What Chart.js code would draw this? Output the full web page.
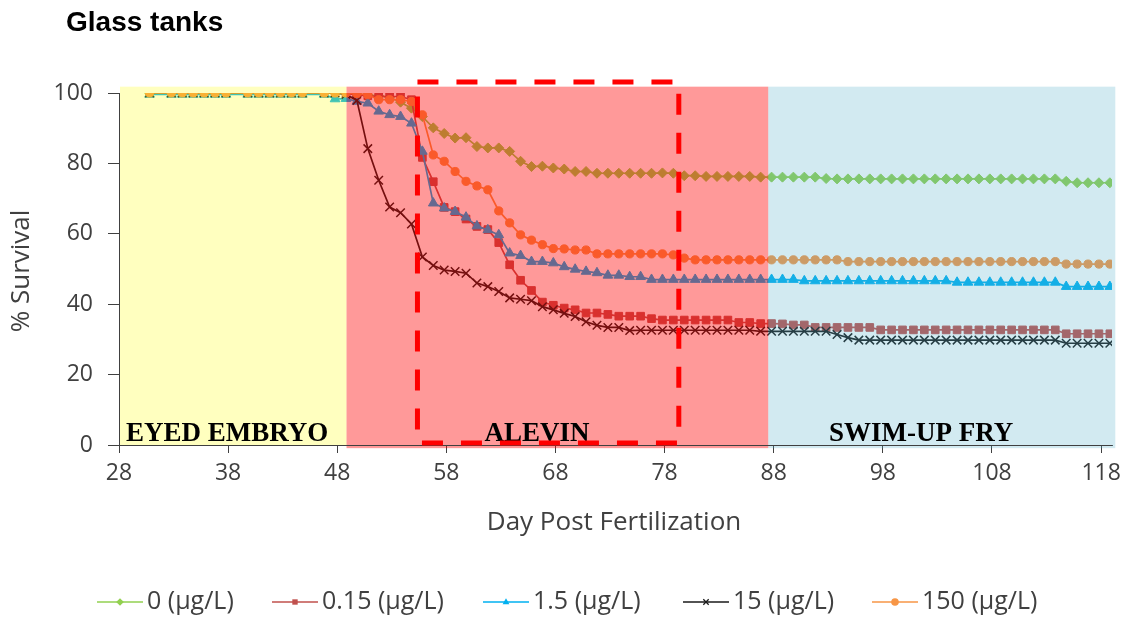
<!DOCTYPE html>
<html>
<head>
<meta charset="utf-8">
<title>Glass tanks</title>
<script src="https://cdn.jsdelivr.net/npm/chart.js@4.4.1/dist/chart.umd.min.js"></script>
<style>
  html, body { margin: 0; padding: 0; background: #ffffff; }
  canvas { display: block; }
</style>
</head>
<body>
<canvas id="supervivencia" width="1128" height="619"></canvas>
<script>
"use strict";

var dias = [30.8, 32.8, 33.8, 34.8, 35.8, 36.8, 37.8, 39.8, 40.8, 41.8, 42.8, 43.8, 44.8, 46.8, 47.8,
    48.8, 49.8, 50.8, 51.8, 52.8, 53.8, 54.8, 55.8, 56.8, 57.8,
    58.8, 59.8, 60.8, 61.8, 62.8, 63.8, 64.8, 65.8, 66.8, 67.8,
    68.8, 69.8, 70.8, 71.8, 72.8, 73.8, 74.8, 75.8, 76.8, 77.8,
    78.8, 79.8, 80.8, 81.8, 82.8, 83.8, 84.8, 85.8, 86.8, 87.8,
    88.8, 89.8, 90.8, 91.8, 92.8, 93.8, 94.8, 95.8, 96.8, 97.8,
    98.8, 99.8, 100.8, 101.8, 102.8, 103.8, 104.8, 105.8, 106.8, 107.8,
    108.8, 109.8, 110.8, 111.8, 112.8, 113.8, 114.8, 115.8, 116.8, 117.8,
    118.8];

var serie0 = [100, 100, 100, 100, 100, 100, 100, 100, 100, 100, 100, 100, 100, 100, 100,
    100, 99.6, 99.4, 99.2, 98.8, 97.4, 95.7, 93.3, 90.1, 88.5,
    87.2, 87.3, 84.8, 84.4, 84.4, 83.4, 80.6, 79.1, 79.2, 78.7,
    78.4, 77.7, 77.7, 77.2, 77.2, 77.2, 77.2, 77.2, 77.2, 77.3,
    77.2, 76.5, 76.5, 76.3, 76.3, 76.3, 76.3, 76.3, 76.1, 76.1,
    76.1, 76.1, 76.1, 76.1, 75.7, 75.6, 75.6, 75.6, 75.6, 75.6,
    75.6, 75.6, 75.6, 75.6, 75.6, 75.6, 75.6, 75.6, 75.6, 75.6,
    75.6, 75.6, 75.6, 75.6, 75.6, 75.6, 74.9, 74.5, 74.5, 74.5,
    74.5];

var serie015 = [100, 100, 100, 100, 100, 100, 100, 100, 100, 100, 100, 100, 100, 100, 100,
    99.8, 99.5, 99.2, 99.0, 99.0, 99.0, 98.1, 81.7, 74.8, 67.5,
    66.3, 64.2, 62.1, 61.2, 57.5, 51.2, 46.8, 43.9, 40.6, 39.7,
    38.9, 38.4, 37.5, 37.5, 37.1, 36.6, 36.6, 36.6, 35.9, 35.5,
    35.5, 35.5, 35.5, 35.5, 35.5, 35.5, 34.8, 34.8, 34.5, 34.5,
    34.4, 34.1, 34.1, 33.4, 33.4, 33.4, 33.4, 33.4, 33.4, 32.7,
    32.7, 32.7, 32.7, 32.7, 32.7, 32.7, 32.7, 32.7, 32.7, 32.7,
    32.7, 32.7, 32.7, 32.7, 32.7, 32.7, 31.6, 31.6, 31.6, 31.6,
    31.6];

var serie15 = [99.6, 99.6, 99.6, 99.6, 99.6, 99.6, 99.6, 99.6, 99.6, 99.6, 99.6, 99.6, 99.6, 99.6, 98.3,
    98.4, 97.6, 97.1, 94.8, 93.8, 93.3, 91.4, 83.4, 68.7, 67.3,
    66.3, 64.7, 62.2, 61.1, 59.7, 54.5, 53.8, 52.1, 52.1, 51.7,
    50.6, 49.9, 49.3, 48.9, 48.2, 48.2, 47.8, 47.8, 47.0, 47.0,
    47.0, 47.0, 47.0, 47.0, 47.0, 47.0, 47.0, 47.0, 47.0, 47.0,
    47.0, 47.0, 46.6, 46.6, 46.6, 46.6, 46.6, 46.6, 46.6, 46.6,
    46.6, 46.6, 46.6, 46.6, 46.6, 46.6, 46.2, 46.2, 46.2, 46.2,
    46.2, 46.2, 46.2, 46.2, 46.2, 46.2, 45.0, 45.0, 45.0, 45.0,
    45.0];

var serie150x = [100, 100, 100, 100, 100, 100, 100, 100, 100, 100, 100, 100, 100, 100, 100,
    99.6, 97.9, 84.2, 75.2, 67.6, 66.0, 62.8, 53.4, 51.0, 49.7,
    49.3, 48.8, 46.0, 45.0, 43.6, 41.8, 41.4, 41.0, 39.3, 38.4,
    37.4, 36.5, 35.0, 34.0, 33.4, 33.4, 32.5, 32.6, 32.6, 32.6,
    32.6, 32.6, 32.6, 32.6, 32.6, 32.6, 32.6, 32.6, 32.3, 32.3,
    32.3, 32.3, 32.3, 32.3, 32.3, 31.4, 30.5, 29.8, 29.8, 29.8,
    29.8, 29.8, 29.8, 29.8, 29.8, 29.8, 29.8, 29.8, 29.8, 29.8,
    29.8, 29.8, 29.8, 29.8, 29.8, 29.8, 28.9, 28.9, 28.9, 28.9,
    28.9];

var serie150 = [100, 100, 100, 100, 100, 100, 100, 100, 100, 100, 100, 100, 100, 100, 100,
    100, 99.8, 99.5, 98.1, 98.1, 98.1, 97.6, 93.8, 82.4, 80.6,
    77.7, 74.9, 73.6, 72.5, 66.5, 63.1, 59.7, 58.2, 56.9, 55.8,
    55.7, 55.4, 55.4, 54.3, 54.3, 54.3, 54.3, 54.3, 54.3, 54.3,
    54.0, 53.1, 52.6, 52.6, 52.6, 52.6, 52.6, 52.6, 52.6, 52.6,
    52.6, 52.6, 52.6, 52.6, 52.6, 52.6, 52.1, 52.1, 52.1, 52.1,
    52.1, 52.1, 52.1, 52.1, 52.1, 52.1, 52.1, 52.1, 52.1, 52.1,
    52.1, 52.1, 52.1, 52.1, 52.1, 52.1, 51.4, 51.4, 51.4, 51.4,
    51.4];

var nombres = ["0 (\u03bcg/L)", "0.15 (\u03bcg/L)", "1.5 (\u03bcg/L)", "15 (\u03bcg/L)", "150 (\u03bcg/L)"];
var etiquetasX = [28, 38, 48, 58, 68, 78, 88, 98, 108, 118];
var etiquetasY = [0, 20, 40, 60, 80, 100];

var etapas = ["EYED EMBRYO", "ALEVIN", "SWIM-UP FRY"];
var inicioEtapa = [28, 48.85, 87.5];
var finEtapa = [48.85, 87.5, 119.3];

var fuente = "'Open Sans', sans-serif";
var colores = ["#92d050", "#c0504d", "#00b0f0", "#1a1a1a", "#f79646"];
var marcas = ["rectRot", "rect", "triangle", "crossRot", "circle"];
var radios = [5, 5.4, 5.6, 6, 4.1];

function puntos(valores) {
    return dias.map(function (d, i) {
        return { x: d, y: valores[i] };
    });
}

function dibujarMarca(ctx, estilo, r, x, y) {
    ctx.beginPath();
    if (estilo === "rectRot") {
        ctx.moveTo(x, y - r); ctx.lineTo(x + r, y); ctx.lineTo(x, y + r); ctx.lineTo(x - r, y);
        ctx.closePath(); ctx.fill();
    } else if (estilo === "rect") {
        var s = r * Math.SQRT1_2;
        ctx.rect(x - s, y - s, 2 * s, 2 * s); ctx.fill();
    } else if (estilo === "triangle") {
        ctx.moveTo(x, y - r); ctx.lineTo(x + r * 0.9, y + r * 0.6); ctx.lineTo(x - r * 0.9, y + r * 0.6);
        ctx.closePath(); ctx.fill();
    } else if (estilo === "crossRot") {
        var c = r * Math.SQRT1_2;
        ctx.moveTo(x - c, y - c); ctx.lineTo(x + c, y + c);
        ctx.moveTo(x + c, y - c); ctx.lineTo(x - c, y + c);
        ctx.stroke();
    } else {
        ctx.arc(x, y, r, 0, Math.PI * 2); ctx.fill();
    }
}

var decorado = {
    id: "decorado",
    afterDatasetsDraw: function (chart) {
        var ctx = chart.ctx, ex = chart.scales.x, ey = chart.scales.y;
        var area = chart.chartArea;
        var tonos = ["rgba(255,255,0,0.25)", "rgba(255,0,0,0.4)", "rgba(75,172,198,0.25)"];
        var abajo = [0, -0.9, -0.9];
        var centros = [37.9, 66.3, 101.5];
        ctx.save();
        for (var i = 0; i < etapas.length; i++) {
            var x0 = ex.getPixelForValue(inicioEtapa[i]);
            var x1 = ex.getPixelForValue(finEtapa[i]);
            var y0 = ey.getPixelForValue(101.8);
            var y1 = ey.getPixelForValue(abajo[i]);
            if (i === 0) { x0 += 1; }
            ctx.fillStyle = tonos[i];
            ctx.fillRect(x0, y0, x1 - x0, y1 - y0);
        }
        // eje x otra vez encima del sombreado
        ctx.strokeStyle = "#404040";
        ctx.lineWidth = 1;
        ctx.beginPath();
        ctx.moveTo(area.left, Math.round(area.bottom) + 0.5);
        ctx.lineTo(area.right, Math.round(area.bottom) + 0.5);
        ctx.stroke();

        ctx.fillStyle = "#000000";
        ctx.font = "bold 27px 'Liberation Serif', serif";
        ctx.textAlign = "center";
        ctx.textBaseline = "middle";
        for (var j = 0; j < etapas.length; j++) {
            ctx.fillText(etapas[j], ex.getPixelForValue(centros[j]), ey.getPixelForValue(3.2));
        }

        ctx.strokeStyle = "#ff0000";
        ctx.lineWidth = 5;
        ctx.setLineDash([21, 18]);
        var rx0 = ex.getPixelForValue(55.35), rx1 = ex.getPixelForValue(79.3);
        var ry0 = ey.getPixelForValue(103.1), ry1 = ey.getPixelForValue(0.6);
        ctx.strokeRect(rx0, ry0, rx1 - rx0, ry1 - ry0);
        ctx.restore();
    },
    afterDraw: function (chart) {
        var ctx = chart.ctx;
        ctx.save();
        ctx.fillStyle = "#000000";
        ctx.font = "bold 28px 'Liberation Sans', Arial, sans-serif";
        ctx.textAlign = "left";
        ctx.textBaseline = "alphabetic";
        ctx.fillText("Glass tanks", 66, 31);

        ctx.fillStyle = "#404040";
        ctx.font = "26px " + fuente;
        ctx.textAlign = "center";
        ctx.textBaseline = "middle";
        ctx.fillText("Day Post Fertilization", 614, 523);
        ctx.save();
        ctx.translate(22, 271);
        ctx.rotate(-Math.PI / 2);
        ctx.fillText("% Survival", 0, 0);
        ctx.restore();

        // leyenda
        ctx.font = "25px " + fuente;
        var inicios = [97, 272, 483, 683, 872];
        var largo = 46, y = 602;
        ctx.textAlign = "left";
        for (var k = 0; k < nombres.length; k++) {
            var x = inicios[k];
            ctx.strokeStyle = colores[k];
            ctx.fillStyle = colores[k];
            ctx.lineWidth = 1.6;
            ctx.beginPath();
            ctx.moveTo(x, y); ctx.lineTo(x + largo, y);
            ctx.stroke();
            ctx.lineWidth = 1.3;
            dibujarMarca(ctx, marcas[k], 3.8, x + largo / 2, y);
            ctx.fillStyle = "#404040";
            ctx.fillText(nombres[k], x + largo + 4, y);
        }
        ctx.restore();
    }
};

function cargaGrafico() {
    var valores = [serie0, serie015, serie15, serie150x, serie150];
    var conjuntos = valores.map(function (v, i) {
        return {
            label: nombres[i],
            data: puntos(v),
            borderColor: colores[i],
            backgroundColor: colores[i],
            pointStyle: marcas[i],
            pointRadius: radios[i],
            pointBorderWidth: i === 3 ? 1.5 : 1,
            borderWidth: 1.7,
            order: 4 - i,
            tension: 0
        };
    });
    var grafico = document.getElementById("supervivencia").getContext("2d");
    new Chart(grafico, {
        type: "line",
        data: { datasets: conjuntos },
        options: {
            responsive: false,
            animation: false,
            devicePixelRatio: 1,
            layout: { padding: { top: 93, right: 14, left: 0, bottom: 0 } },
            plugins: {
                legend: { display: false },
                title: { display: false },
                tooltip: { enabled: false }
            },
            scales: {
                x: {
                    type: "linear",
                    min: 28,
                    max: 119,
                    afterBuildTicks: function (eje) {
                        eje.ticks = etiquetasX.map(function (v) { return { value: v }; });
                    },
                    afterFit: function (eje) { eje.height = 174; },
                    grid: { drawOnChartArea: false, tickLength: 8, tickColor: "#404040" },
                    border: { color: "#404040", width: 1 },
                    ticks: { color: "#404040", font: { family: fuente, size: 23 }, padding: 7, maxRotation: 0, autoSkip: false }
                },
                y: {
                    min: 0,
                    max: 100,
                    afterBuildTicks: function (eje) {
                        eje.ticks = etiquetasY.map(function (v) { return { value: v }; });
                    },
                    afterFit: function (eje) { eje.width = 119; },
                    grid: { drawOnChartArea: false, tickLength: 11, tickColor: "#404040" },
                    border: { color: "#404040", width: 1 },
                    ticks: { color: "#404040", font: { family: fuente, size: 23 }, padding: 15 }
                }
            }
        },
        plugins: [decorado]
    });
}

window.onload = function () {
    cargaGrafico();
};
</script>
</body>
</html>
